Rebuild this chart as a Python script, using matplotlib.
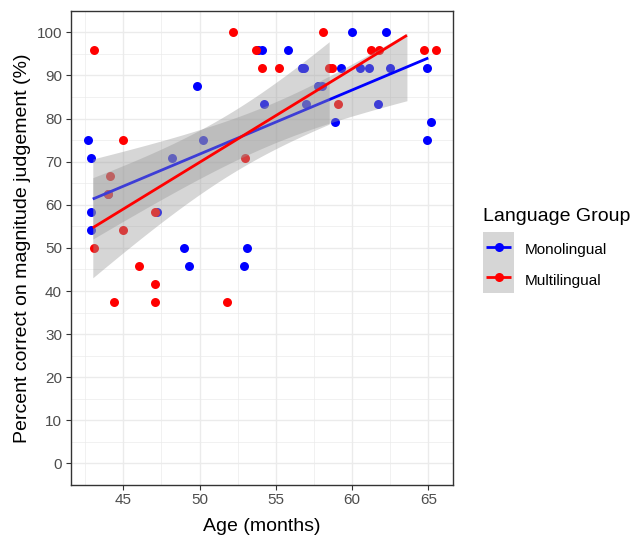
import math
import numpy as np
import matplotlib
matplotlib.use("Agg")
import matplotlib.pyplot as plt
from matplotlib.lines import Line2D
from matplotlib.patches import Rectangle

plt.rcParams['font.family'] = ['Liberation Sans', 'DejaVu Sans']

# ---------------- data ----------------
groups = ["Monolingual", "Multilingual"]
group_colors = ["#0000FF", "#FF0000"]

mono_age = [42.7, 42.9, 42.9, 42.9, 44.0, 47.2, 48.2, 49.0, 49.3, 49.8, 50.2,
            52.9, 53.1, 53.85, 54.1, 54.2, 55.8, 56.7, 56.85, 57.0, 57.8, 58.0,
            58.9, 59.3, 60.0, 60.5, 61.1, 61.7, 62.2, 62.5, 64.9, 65.2, 64.9]
mono_pct = [75.0, 70.8, 58.3, 54.2, 62.5, 58.3, 70.8, 50.0, 45.8, 87.5, 75.0,
            45.8, 50.0, 95.8, 95.8, 83.3, 95.8, 91.7, 91.7, 83.3, 87.5, 87.5,
            79.2, 91.7, 100.0, 91.7, 91.7, 83.3, 100.0, 91.7, 91.7, 79.2, 75.0]

multi_age = [43.1, 43.1, 44.1, 44.0, 44.4, 45.0, 45.0, 46.0, 47.1, 47.1, 47.1,
             51.8, 52.2, 53.0, 53.7, 54.1, 55.2, 58.1, 58.5, 58.7, 59.1, 61.25,
             61.8, 64.7, 65.5]
multi_pct = [95.8, 50.0, 66.7, 62.5, 37.5, 75.0, 54.2, 45.8, 58.3, 41.7, 37.5,
             37.5, 100.0, 70.8, 95.8, 91.7, 91.7, 100.0, 91.7, 91.7, 83.3, 95.8,
             95.8, 95.8, 95.8]

# age spans of the fitted lines and of their confidence bands (as drawn)
mono_line_range = [43.0, 65.0]
multi_line_range = [43.0, 63.6]
mono_band_range = [43.0, 63.6]
multi_band_range = [43.0, 58.5]

x_ticks = [45, 50, 55, 60, 65]
y_ticks = [0, 10, 20, 30, 40, 50, 60, 70, 80, 90, 100]

# ---------------- helpers ----------------
def t_crit(df, level=0.95):
    c = math.gamma((df + 1) / 2) / (math.sqrt(df * math.pi) * math.gamma(df / 2))
    grid = np.linspace(0, 10, 200001)
    pdf = c * (1 + grid ** 2 / df) ** (-(df + 1) / 2)
    cdf = np.concatenate([[0], np.cumsum((pdf[1:] + pdf[:-1]) / 2 * np.diff(grid))])
    return float(np.interp(level / 2, cdf, grid))


def lm_fit(x, y):
    x = np.asarray(x, float)
    y = np.asarray(y, float)
    b1, b0 = np.polyfit(x, y, 1)
    resid = y - (b0 + b1 * x)
    df = len(x) - 2
    s = np.sqrt(np.sum(resid ** 2) / df)
    sxx = np.sum((x - x.mean()) ** 2)
    t = t_crit(df)
    xm, n = x.mean(), len(x)

    def pred(xs):
        xs = np.asarray(xs, float)
        yh = b0 + b1 * xs
        se = s * np.sqrt(1 / n + (xs - xm) ** 2 / sxx)
        return yh, yh - t * se, yh + t * se
    return pred

# ---------------- figure ----------------
W, H = 631, 535
fig = plt.figure(figsize=(W / 100, H / 100), dpi=100)
left, right, bottom, top = 71, 453.3, 485, 10.8
ax = fig.add_axes([left / W, 1 - bottom / H, (right - left) / W, (bottom - top) / H])

ax.set_xlim(41.57, 66.64)
ax.set_ylim(-5, 105)
ax.set_xticks(x_ticks)
ax.set_yticks(y_ticks)
ax.set_xticks([42.5, 47.5, 52.5, 57.5, 62.5], minor=True)
ax.set_yticks([5 + 10 * i for i in range(10)], minor=True)
ax.grid(True, which='major', color='#EBEBEB', lw=1.0, zorder=0)
ax.grid(True, which='minor', color='#EBEBEB', lw=0.5, zorder=0)
ax.set_axisbelow(True)
for sp in ax.spines.values():
    sp.set_color('#333333')
    sp.set_linewidth(1.0)
ax.tick_params(which='major', length=3.6, width=0.8, color='#333333',
               labelsize=11, labelcolor='#4D4D4D')
ax.tick_params(axis='x', which='major', pad=2.5)
ax.tick_params(axis='y', which='major', pad=2.9)
ax.tick_params(which='minor', length=0)

ages = [mono_age, multi_age]
pcts = [mono_pct, multi_pct]
line_ranges = [mono_line_range, multi_line_range]
band_ranges = [mono_band_range, multi_band_range]

# points first
for a, p, c in zip(ages, pcts, group_colors):
    ax.scatter(a, p, s=42, color=c, linewidths=0, zorder=2)

# smooths: band then line per group
z = 3
for a, p, c, lr, br in zip(ages, pcts, group_colors, line_ranges, band_ranges):
    pred = lm_fit(a, p)
    xb = np.linspace(br[0], br[1], 80)
    _, lo, hi = pred(xb)
    ax.fill_between(xb, lo, hi, color='#999999', alpha=0.4, lw=0, zorder=z)
    xl = np.linspace(lr[0], lr[1], 80)
    yl, _, _ = pred(xl)
    ax.plot(xl, yl, color=c, lw=2.0, zorder=z + 1, solid_capstyle='butt')
    z += 2

# axis titles
fig.text(262 / W, 1 - 531 / H, "Age (months)", fontsize=14, color='black',
         ha='center', va='baseline')
fig.text(27.5 / W, 1 - 248 / H, "Percent correct on magnitude judgement (%)",
         fontsize=14, color='black', rotation=90, rotation_mode='anchor',
         ha='center', va='baseline')

# legend (drawn by hand, ggplot style)
def fx(px):
    return px / W


def fy(py):
    return 1 - py / H

fig.text(fx(483), fy(220.7), "Language Group", fontsize=14, color='black',
         ha='left', va='baseline')
key_top = 231.7
key_h = 30.5
fig.add_artist(Rectangle((fx(482.7), fy(key_top + 2 * key_h)), fx(514) - fx(482.7),
                         fy(key_top) - fy(key_top + 2 * key_h),
                         transform=fig.transFigure, facecolor='#D6D6D6',
                         edgecolor='none'))
for i, (g, c) in enumerate(zip(groups, group_colors)):
    yc = key_top + key_h * (i + 0.5)
    fig.add_artist(Line2D([fx(486), fx(511)], [fy(yc), fy(yc)], color=c, lw=2.0,
                          transform=fig.transFigure, solid_capstyle='butt'))
    fig.add_artist(Line2D([fx(498.5)], [fy(yc)], color=c, marker='o', ms=6.5,
                          mec='none', mfc=c, transform=fig.transFigure))
    fig.text(fx(525), fy(yc + 7.5), g, fontsize=11, color='black',
             ha='left', va='baseline')

fig.savefig("out.png", dpi=100)
